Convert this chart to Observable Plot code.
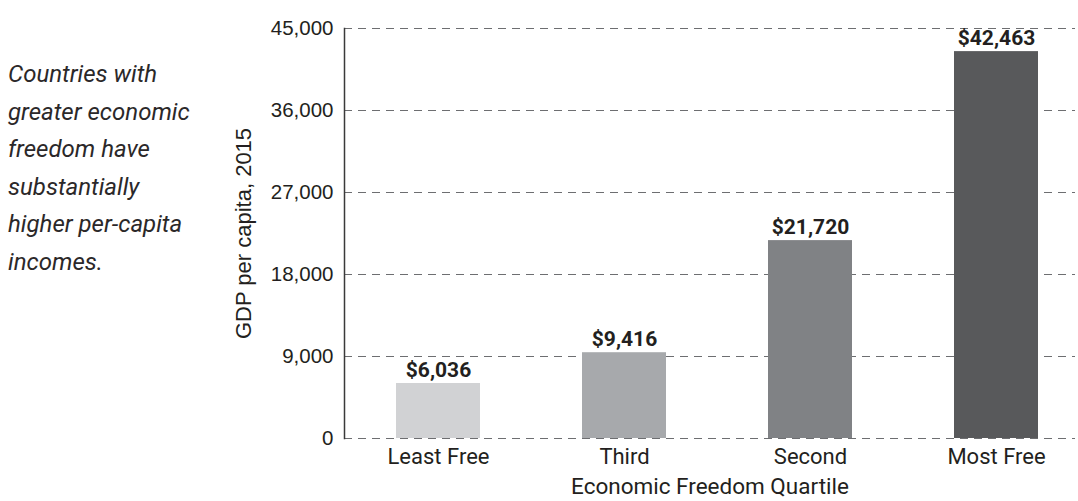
<!DOCTYPE html>
<html>
<head>
<meta charset="utf-8">
<script src="https://cdn.jsdelivr.net/npm/d3@7"></script>
<script src="https://cdn.jsdelivr.net/npm/@observablehq/plot@0.6"></script>
<style>
  html, body { margin: 0; padding: 0; background: #fff; }
  #wrap { position: relative; width: 1078px; height: 501px; }
  #note {
    position: absolute; left: 8px; top: 56px;
    font-family: Roboto, "Noto Sans", sans-serif; font-style: italic; font-weight: 400;
    font-size: 24px; line-height: 37.6px; color: #2b2829;
  }
  #chart { position: absolute; left: 0; top: 0; }
</style>
</head>
<body>
<div id="wrap">
  <div id="chart"></div>
  <div id="note">Countries with<br>greater economic<br>freedom have<br>substantially<br>higher per-capita<br>incomes.</div>
</div>
<script>
const categories = ["Least Free", "Third", "Second", "Most Free"];
const gdp = [6036, 9416, 21720, 42463];
const barColors = ["#d1d2d4", "#a7a9ac", "#808285", "#58595b"];
const yTicks = [0, 9000, 18000, 27000, 36000, 45000];
const yLabel = "GDP per capita, 2015";
const xLabel = "Economic Freedom Quartile";

const rows = categories.map((c, i) => ({category: c, value: gdp[i], color: barColors[i]}));
const ink = "#231f20";

const chart = Plot.plot({
  width: 1078,
  height: 501,
  marginTop: 28,
  marginBottom: 63,
  marginLeft: 344,
  marginRight: 3,
  style: {background: "transparent", color: ink},
  x: {domain: categories, range: [344, 1090], paddingInner: 0.55, paddingOuter: 0.275, align: 0.5},
  y: {domain: [0, 45000]},
  marks: [
    Plot.gridY(yTicks, {stroke: "#6d6e71", strokeOpacity: 1, strokeWidth: 1, strokeDasharray: "8,6"}),
    Plot.barY(rows, {x: "category", y: "value", fill: "color"}),
    Plot.frame({anchor: "left", stroke: "#3a3a3a", strokeWidth: 1.5}),
    Plot.axisY({ticks: yTicks, tickFormat: d3.format(","), tickSize: 0, tickPadding: 11, label: null,
      fontSize: 20.5, fontFamily: "'Liberation Sans', Arial, sans-serif", fill: ink}),
    Plot.axisX({tickSize: 0, tickPadding: 10, label: null,
      fontSize: 22, fontFamily: "Roboto, sans-serif", fill: ink}),
    Plot.text(rows, {x: "category", y: "value", text: d => "$" + d3.format(",")(d.value), dy: -7,
      fontSize: 21, fontWeight: "bold", fontFamily: "Roboto, sans-serif",
      fill: ink, lineAnchor: "bottom"}),
    Plot.text([yLabel], {text: d => d, frameAnchor: "left", textAnchor: "middle", rotate: -90, dx: -101,
      fontSize: 22, fontFamily: "'Liberation Sans', Arial, sans-serif", fill: ink}),
    Plot.text([xLabel], {text: d => d, frameAnchor: "bottom", dy: 48, lineAnchor: "middle",
      fontSize: 22.5, fontFamily: "Roboto, sans-serif", fill: ink})
  ]
});
document.getElementById("chart").appendChild(chart);
</script>
</body>
</html>
